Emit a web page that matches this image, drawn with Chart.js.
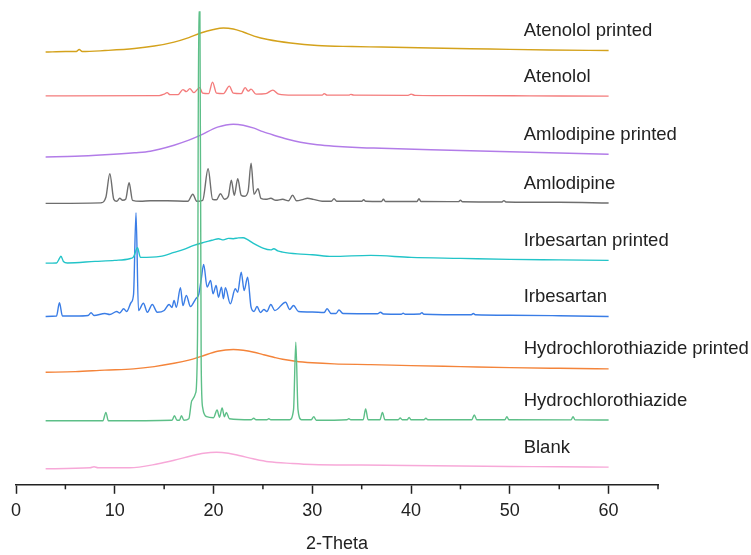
<!DOCTYPE html>
<html>
<head>
<meta charset="utf-8">
<script src="https://cdn.jsdelivr.net/npm/chart.js"></script>
<style>
  html, body { margin: 0; padding: 0; background: #fff; }
  canvas { display: block; }
</style>
</head>
<body>
<canvas id="xrd" width="751" height="555"></canvas>
<script>
// traces, [2-theta, stacked intensity]
const atenololPrinted = [[3,432],[5,432.5],[6.1,432.5],[6.4,434.5],[6.7,432.5],[9,433.5],[12,435.5],[14,438],[16,442],[17.5,446.5],[18.7,451],[20,454.5],[21,456],[22,455],[23,452],[24.1,448],[25.5,444.5],[27.8,441],[30.5,438.5],[34,437.5],[37,437],[42,436],[48,435],[54,434],[60,433.5]]
const atenolol = [[3,388.3],[14.5,388.5],[15.0,390],[15.3,391.5],[15.6,389.5],[16.4,389.5],[16.9,394.5],[17.25,392.5],[17.6,395.5],[18.0,391.5],[18.6,396.5],[18.9,391],[19.5,390.5],[19.9,402],[20.3,391],[21.0,390.5],[21.6,398],[22.0,391],[22.8,390.5],[23.2,396.5],[23.5,393],[23.8,395],[24.3,390],[25.3,390.5],[26.0,394],[26.6,390],[28,389],[31.0,389],[31.2,390.5],[31.5,389],[33.7,389],[33.9,389.8],[34.2,389],[39.7,388.8],[40,390],[40.4,388.8],[45,388.5],[52,388.3],[60,388]]
const amlodipinePrinted = [[3,327.3],[6,328],[9,329.5],[12,331.5],[13.6,333],[16,339],[17.5,344],[18.7,349],[20.4,357],[22,360],[23,359],[24.1,356],[25,352.5],[26.1,349],[27.5,345],[28.8,342],[30.5,339.5],[32.2,338],[35,336.5],[37,336],[42,334.5],[48,333],[54,331.5],[60,330]]
const amlodipine = [[3,281],[8.6,281.5],[9.1,287],[9.5,310.5],[9.9,285],[10.2,283],[10.5,286],[10.8,284],[11.1,285],[11.45,301.5],[11.8,284],[12.6,283],[13.6,283.5],[15.3,283.5],[17.4,283],[17.9,290],[18.3,283],[18.9,284],[19.45,315.5],[19.9,285],[20.3,284.5],[20.7,290.5],[21.1,285],[21.5,288],[21.8,304],[22.1,289],[22.45,305.5],[22.8,289],[23.1,288],[23.5,293],[23.8,321],[24.1,290],[24.5,295.5],[24.8,286],[25.3,285],[25.8,286],[26.3,284],[27.0,285],[27.6,283.5],[28.0,289],[28.4,283.5],[29.1,285],[29.5,286],[30.1,285],[31,283],[31.9,283],[32.2,285.5],[32.5,283],[35.0,283],[35.2,284.5],[35.4,283],[37.0,282.8],[37.2,285],[37.4,282.8],[40.6,282.8],[40.8,285.5],[41.0,282.8],[44.8,282.7],[45,284],[45.2,282.5],[49.2,282.3],[49.4,283.7],[49.6,282.3],[55,282],[60,281.3]]
const irbesartanPrinted = [[3,221.3],[4.1,221.5],[4.4,226],[4.55,228.3],[4.8,223],[5.2,221.5],[8,223],[10,224],[11.5,225.7],[11.9,227.5],[12.3,236.7],[12.6,227],[14.6,228],[16,232],[17,235],[18,239],[19,242],[19.5,243.3],[20,244.5],[20.5,245.7],[21,244.5],[21.5,246],[22,245.7],[22.5,246.5],[23,246.7],[23.4,245],[24,241.3],[25,236.3],[25.8,234.5],[26.1,235.7],[26.5,233.5],[27,232.3],[28.5,230.5],[30,229.7],[32,228],[35.9,229],[40,227],[45,226],[50,225],[55,224.5],[60,224]]
const irbesartan = [[3,168],[4.1,168.5],[4.4,181.7],[4.7,168.5],[6,168.5],[7.3,169],[7.6,171.7],[7.9,169],[9.0,171],[9.5,170],[10.2,173],[10.5,171.5],[10.9,175.7],[11.2,173],[11.65,182],[11.9,190],[12.15,271.7],[12.4,174],[12.9,181.3],[13.3,172.3],[13.8,180],[14.3,172.3],[15.0,174],[15.5,180],[15.8,177],[16.0,184],[16.24,177.3],[16.65,196.7],[16.9,179],[17.25,189],[17.66,178],[18.2,185.7],[18.5,190],[18.75,205],[19.0,220],[19.35,197.3],[19.7,204],[19.95,190.7],[20.26,199],[20.5,187.3],[20.8,197.3],[21.0,185.7],[21.2,196.7],[21.7,180.7],[22.2,195.7],[22.45,192.3],[22.8,212.3],[23.1,194],[23.45,207.3],[23.8,177.3],[24.1,173],[24.4,178],[24.75,172],[25.1,175],[25.4,173],[25.8,180],[26.2,174],[27.3,182.3],[27.7,175],[28.1,179],[28.6,173],[30,172.5],[31.2,172],[31.5,175.7],[31.9,171],[32.4,171],[32.7,174.5],[33.1,171],[36.6,170.8],[36.9,172.3],[37.2,170.5],[39.0,170.3],[39.2,171.3],[39.4,170.3],[40.9,170.5],[41.1,171.8],[41.3,170.3],[46.1,169.8],[46.3,171],[46.5,169.8],[50,169.3],[55,168.8],[60,168]]
const hctPrinted = [[3,112.3],[6,113],[9,114.5],[11.9,115.7],[14,118],[16,121.3],[17.5,124.5],[18.7,128],[20.4,133.3],[22,135],[23,134.3],[24.1,132.3],[25,130],[26.1,127.3],[27,125.3],[28.3,123.3],[30,121.8],[32.2,120.7],[35.9,120],[40,119],[45,118],[50,117],[55,116.3],[60,115.7]]
const hct = [[3,64],[8.8,64],[9.1,72.3],[9.35,64],[15.8,64.5],[16.04,69],[16.3,64.5],[16.55,64.5],[16.75,69],[17.0,64.5],[17.5,66],[17.8,84],[18.2,92],[18.38,150],[18.5,472],[18.62,472],[18.75,120],[18.9,77],[19.3,68],[20.0,67],[20.36,74.7],[20.6,67.5],[20.87,76.7],[21.1,68],[21.3,72.3],[21.6,66],[23.8,65],[24.07,66.5],[24.3,65],[25.4,65],[25.6,66],[25.8,65],[27.7,65],[28.1,75],[28.33,142.3],[28.55,75],[28.9,65],[29.9,65],[30.15,68],[30.4,64.5],[33.5,65],[33.7,66],[33.9,65],[35.15,65],[35.4,75.7],[35.65,65],[36.85,65],[37.1,72.3],[37.35,65],[38.7,65],[38.9,66.7],[39.1,65],[39.6,65],[39.8,67.3],[40.0,65],[41.3,65],[41.5,66.5],[41.7,65],[46.15,65],[46.4,69.7],[46.65,65],[49.5,65],[49.7,68],[49.9,65],[56.2,64.8],[56.4,68],[56.6,64.8],[60,64.7]]
const blank = [[3,16],[7.5,17],[7.9,18],[8.3,17],[11.5,17],[14.4,21],[16,24.5],[17.8,29],[19,31.5],[20.3,32.5],[21.5,31.5],[22.7,29],[24,26],[25.6,23],[28,21.3],[30,20.3],[35,19.7],[39.7,19.3],[45,18.7],[50,18.3],[55,18],[60,17.6]]

const seriesNames = ['Atenolol printed','Atenolol','Amlodipine printed','Amlodipine','Irbesartan printed','Irbesartan','Hydrochlorothiazide printed','Hydrochlorothiazide','Blank']
const seriesData = [atenololPrinted, atenolol, amlodipinePrinted, amlodipine, irbesartanPrinted, irbesartan, hctPrinted, hct, blank]
const seriesColors = ['#D4A21C','#F47C7C','#B27CE8','#6E6E6E','#22C4C8','#3A7DE6','#F4843A','#5DBF88','#F7A8D8']
const majorTicks = [0,10,20,30,40,50,60]
const minorTicks = [5,15,25,35,45,55,65]

const fontFamily = '"Liberation Sans", Arial, Helvetica, sans-serif'
const textColor = '#222'

let traceLabels = {
	id: 'traceLabels',
	afterDatasetsDraw(chart) {
		const ctx = chart.ctx, x = chart.scales.x, y = chart.scales.y
		ctx.save()
		ctx.font = '18.5px ' + fontFamily
		ctx.fillStyle = textColor
		ctx.textBaseline = 'middle'
		chart.data.datasets.forEach(function(ds) {
			const last = ds.data[ds.data.length - 1]
			ctx.fillText(ds.label, x.getPixelForValue(51.4), y.getPixelForValue(last.y) - 19.5)
		})
		ctx.restore()
	}
}

// short ticks halfway between the labelled ones
let minorTickMarks = {
	id: 'minorTickMarks',
	afterDraw(chart) {
		const ctx = chart.ctx, x = chart.scales.x
		ctx.save()
		ctx.strokeStyle = textColor
		ctx.lineWidth = 1.5
		minorTicks.forEach(function(v) {
			const px = x.getPixelForValue(v)
			ctx.beginPath()
			ctx.moveTo(px, x.top)
			ctx.lineTo(px, x.top + 4.5)
			ctx.stroke()
		})
		ctx.restore()
	}
}

let datasets = seriesNames.map(function(name, i) {
	return {
		label: name,
		data: seriesData[i].map(p => ({x: p[0], y: p[1]})),
		borderColor: seriesColors[i],
		borderWidth: 1.4,
		pointRadius: 0,
		fill: false,
		cubicInterpolationMode: 'monotone',
		order: name === 'Hydrochlorothiazide' ? 0 : 1
	}
})

new Chart(document.getElementById('xrd').getContext('2d'), {
	type: 'line',
	data: { datasets: datasets },
	options: {
		responsive: false,
		animation: false,
		layout: { padding: { left: 16, right: 93, top: 10, bottom: 0 } },
		plugins: { legend: { display: false }, tooltip: { enabled: false } },
		scales: {
			x: {
				type: 'linear',
				min: 0,
				max: 65,
				border: { color: textColor, width: 1.5 },
				grid: {
					drawOnChartArea: false,
					tickLength: 9,
					tickWidth: 1.5,
					tickColor: c => (c.tick && majorTicks.includes(c.tick.value)) ? textColor : 'rgba(0,0,0,0)'
				},
				ticks: {
					stepSize: 5,
					autoSkip: false,
					maxRotation: 0,
					padding: 6,
					color: textColor,
					font: { family: fontFamily, size: 18 },
					callback: v => majorTicks.includes(v) ? String(v) : ''
				},
				title: {
					display: true,
					text: '2-Theta',
					color: textColor,
					font: { family: fontFamily, size: 18 },
					padding: { top: 6, bottom: 0 }
				}
			},
			y: { type: 'linear', display: false, min: 0, max: 474 }
		}
	},
	plugins: [traceLabels, minorTickMarks]
})
</script>
</body>
</html>
